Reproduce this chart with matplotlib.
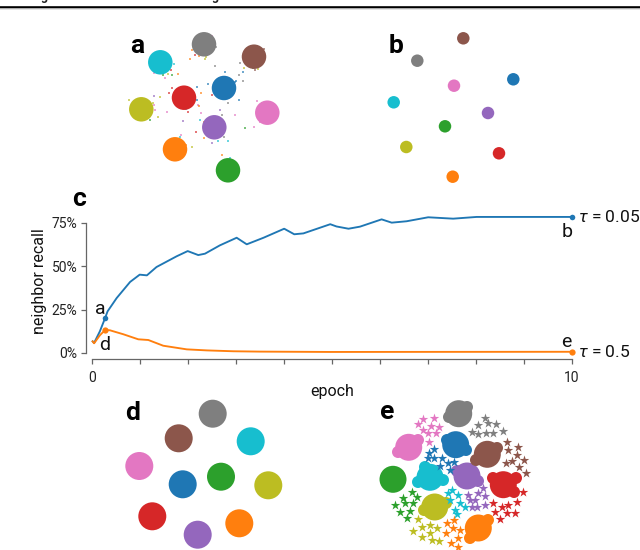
import matplotlib
matplotlib.use('Agg')
import matplotlib.pyplot as plt

plt.rcParams['font.family'] = ['Roboto', 'DejaVu Sans']
plt.rcParams['mathtext.fontset'] = 'custom'
plt.rcParams['mathtext.it'] = 'Roboto:italic'
plt.rcParams['mathtext.rm'] = 'Roboto'

W, H = 640, 550
COLORS = ['#1f77b4', '#ff7f0e', '#2ca02c', '#d62728', '#9467bd',
          '#8c564b', '#e377c2', '#7f7f7f', '#bcbd22', '#17becf']
# order: blue orange green red purple brown pink gray olive cyan
a_x = [224, 175, 228, 184, 214.3, 254, 267.3, 204, 141.3, 160.3]
a_y = [88, 149.3, 170.3, 97.7, 127.3, 56.7, 112.7, 44.3, 109.3, 62.3]
b_x = [513.3, 452.7, 445, 499, 488, 463.3, 454, 417.3, 406.3, 393.7]
b_y = [79.3, 176.7, 126.3, 153.3, 113, 38.3, 85.7, 60.7, 147, 102.3]
d_x = [182.7, 239.3, 221, 152.3, 197.7, 178.7, 139.3, 212.7, 268.3, 250.7]
d_y = [484.3, 523.3, 476.7, 516.3, 534.7, 438.3, 466, 413.7, 485.3, 441.3]
e_x = [455.7, 478.3, 393, 503.3, 467, 487.3, 408.7, 458.7, 434.7, 430]
e_y = [444.7, 528, 479.3, 484.7, 476, 454.3, 447.3, 413.7, 507, 477.3]
# bumps on the blob edges of panel e: x, y, colour index
lobe_x = [467, 449, 398, 418, 493, 514, 516, 478, 457, 418, 443, 425, 476, 497, 447, 466, 488, 470, 424, 446]
lobe_y = [407, 417, 452, 440, 478, 492, 478, 481, 471, 482, 480, 467, 460, 448, 440, 450, 520, 538, 510, 503]
lobe_c = [7, 7, 6, 6, 3, 3, 3, 4, 4, 9, 9, 9, 5, 5, 0, 0, 1, 1, 8, 8]

# small fragments of panel e, per colour (same order)
frag_e = [
    [(434, 449), (429, 453), (442, 458), (434, 458), (448, 463), (428, 458), (440, 466), (450, 470), (454, 462)],
    [(454, 520), (447, 523), (453, 528), (460, 530), (446, 533), (458, 538), (451, 543), (458, 547)],
    [(412, 492), (403, 498), (417, 497), (395, 505), (405, 503), (413, 503), (400, 512), (410, 511), (407, 518)],
    [(523, 492), (493, 503), (502, 507), (508, 505), (517, 502), (495, 512), (507, 513), (515, 513), (500, 519)],
    [(483, 488), (468, 495), (475, 500), (485, 496), (478, 493), (472, 507), (477, 507), (485, 505), (470, 500)],
    [(507, 442), (508, 450), (518, 447), (517, 455), (524, 460), (506, 463), (512, 461), (519, 467), (526, 473)],
    [(423, 419), (434, 418), (418, 424), (431, 426), (439, 427), (423, 430), (436, 433), (428, 433), (429, 442)],
    [(485, 418), (488, 423), (496, 424), (478, 425), (503, 431), (472, 432), (478, 434), (486, 433), (493, 433)],
    [(418, 519), (430, 525), (422, 527), (413, 531), (437, 528), (430, 533), (422, 537), (432, 540), (439, 541)],
    [(452, 490), (458, 495), (450, 500), (460, 503), (455, 510), (465, 507), (457, 514), (448, 493)],
]
# stray points around the clusters of panel a: x, y, colour index
stray_x = [190, 205, 195, 172, 165, 178, 215, 235, 243, 208, 212, 201, 197, 198, 228, 200, 235, 196, 183, 255, 258,
           240, 243, 253, 262, 160, 154, 158, 230, 222, 181, 186, 180, 192, 218, 224, 220, 155, 260, 225, 245,
           171, 168, 163, 154, 174, 192, 212, 216, 199, 206, 246, 244, 264, 153, 155, 150, 129, 154,
           172, 197, 199, 169, 201, 204, 225, 239, 239, 212, 228, 204, 222, 254, 257, 236, 188, 186, 167]
stray_y = [59, 59, 55, 75, 78, 74, 66, 82, 81, 84, 95, 93, 100, 105, 103, 120, 115, 132, 121, 70, 69,
           63, 72, 68, 103, 97, 105, 117, 158, 155, 135, 145, 137, 147, 141, 137, 110, 68, 122, 163, 128,
           70, 74, 75, 73, 64, 50, 36, 47, 56, 57, 62, 68, 49, 103, 110, 120, 100, 96,
           88, 87, 106, 93, 113, 122, 72, 75, 100, 143, 141, 138, 115, 127, 101, 81, 112, 109, 112]
stray_c = [1, 8, 3, 2, 6, 1, 7, 0, 7, 0, 3, 1, 0, 6, 7, 9, 6, 3, 4, 5, 8,
           7, 0, 2, 4, 8, 6, 8, 9, 1, 6, 1, 9, 8, 9, 7, 4, 3, 6, 2, 2,
           3, 8, 2, 6, 9, 1, 6, 7, 1, 8, 2, 8, 5, 8, 6, 2, 8, 4,
           3, 0, 1, 3, 6, 1, 0, 7, 0, 4, 9, 1, 7, 6, 6, 0, 3, 9, 6]

epoch_blue = [0.02, 0.05, 0.17, 0.28, 0.33, 0.52, 0.8, 1.0, 1.15, 1.35, 1.77, 2.0, 2.22, 2.36, 2.67, 3.02, 3.23,
              3.58, 4.01, 4.22, 4.41, 4.97, 5.1, 5.35, 5.59, 6.04, 6.25, 6.56, 7.01, 7.53, 8.02, 8.58, 10]
recall_blue = [6.7, 5.8, 12.5, 20.2, 24, 31.7, 41, 45.2, 44.8, 49.6, 55.8, 58.8, 56.5, 57.3, 62.1, 66.5, 62.7,
               66.5, 71.7, 68.5, 69, 74.3, 73, 71.7, 72.9, 77.1, 75.2, 76, 78.3, 77.5, 78.5, 78.5, 78.5]
epoch_orange = [0.02, 0.05, 0.17, 0.28, 0.38, 0.66, 0.97, 1.18, 1.49, 1.98, 2.4, 2.95, 3.5, 4.97, 10]
recall_orange = [6.7, 5.6, 10.2, 13.3, 13.1, 10.8, 7.9, 7.5, 4.2, 2.1, 1.5, 1.0, 0.8, 0.6, 0.7]
y_ticks = [0, 25, 50, 75]
y_labels = ['0%', '25%', '50%', '75%']
x_ticks = list(range(11))
x_labels = ['0'] + [''] * 9 + ['10']


def dia(px):
    return (px * 0.72) ** 2


fig = plt.figure(figsize=(W / 100, H / 100), dpi=100, facecolor='white')

px = fig.add_axes([0, 0, 1, 1])
px.set_xlim(0, W)
px.set_ylim(H, 0)
px.axis('off')

px.scatter(a_x, a_y, s=dia(24.5), c=COLORS, linewidths=0, zorder=3)
px.scatter(stray_x, stray_y, s=dia(2), c=[COLORS[i] for i in stray_c], linewidths=0, alpha=0.8, zorder=2)
px.scatter(b_x, b_y, s=dia(12.5), c=COLORS, linewidths=0, zorder=3)
px.scatter(d_x, d_y, s=dia(28), c=COLORS, linewidths=0, zorder=3)
px.scatter(e_x, e_y, s=dia(27), c=COLORS, linewidths=0, zorder=3)
px.scatter(lobe_x, lobe_y, s=dia(12), c=[COLORS[i] for i in lobe_c], linewidths=0, zorder=3)
for col, pts in zip(COLORS, frag_e):
    px.scatter([p[0] for p in pts], [p[1] for p in pts], s=dia(10), c=col, marker='*', linewidths=0, zorder=3)

# header rule with the cut-off caption line above it
px.plot([0, W], [7.3, 7.3], color='black', lw=1.6, solid_capstyle='butt', snap=False)
px.plot([0, W], [8.9, 8.9], color='#bbbbbb', lw=0.7, solid_capstyle='butt', snap=False)
for x in (44, 215):
    px.text(x, 0, 'g', fontsize=9, fontweight='bold', ha='center', va='baseline', color='#222222')

for letter, x, y in [('a', 136.7, 52.7), ('b', 396, 52.7), ('c', 79, 206), ('d', 133, 420), ('e', 386.7, 419.3)]:
    px.text(x, y, letter, fontsize=19, fontweight='bold', ha='center', va='baseline', color='black')

# line chart; 0 at x=91.7, 10 at x=571.7, 0% at y=353, 75% at y=223
L, R, T, B = 91.7, 571.7, 210.0, 353.0
ax = fig.add_axes([L / W, 1 - B / H, (R - L) / W, (B - T) / H])
ax.patch.set_alpha(0)
ax.set_xlim(0, 10)
ax.set_ylim(0, (B - T) / (B - 223) * 75)
ax.plot(epoch_blue, recall_blue, color=COLORS[0], lw=1.35, clip_on=False)
ax.plot(epoch_orange, recall_orange, color=COLORS[1], lw=1.35, clip_on=False)
ax.plot([epoch_blue[3], epoch_blue[-1]], [recall_blue[3], recall_blue[-1]], 'o', ms=4, color=COLORS[0], mew=0, clip_on=False)
ax.plot([epoch_orange[3], epoch_orange[-1]], [recall_orange[3], recall_orange[-1]], 'o', ms=4.5, color=COLORS[1], mew=0, clip_on=False)

for s in ('top', 'right'):
    ax.spines[s].set_visible(False)
ax.spines['left'].set_position(('outward', 4.3))
ax.spines['bottom'].set_position(('outward', 4.3))
ax.spines['left'].set_bounds(0, 75)
ax.spines['bottom'].set_bounds(0, 10)
for s in ('left', 'bottom'):
    ax.spines[s].set_color('#666666')
    ax.spines[s].set_linewidth(0.9)
ax.set_xticks(x_ticks, x_labels)
ax.set_yticks(y_ticks, y_labels)
ax.tick_params(axis='both', length=3.6, width=0.9, color='#666666', labelsize=10, labelcolor='#222222')
ax.tick_params(axis='x', pad=5)
ax.tick_params(axis='y', pad=2.5)
ax.set_xlabel('epoch', fontsize=11.5, labelpad=-1, color='#111111')
ax.set_ylabel('neighbor recall', fontsize=11.5, labelpad=3, color='#111111')

px2 = fig.add_axes([0, 0, 1, 1])
px2.set_xlim(0, W)
px2.set_ylim(H, 0)
px2.axis('off')
for t, x, y in [('a', 100, 314), ('d', 105, 350), ('b', 566.7, 236.7), ('e', 566.7, 346.7)]:
    px2.text(x, y, t, fontsize=14, ha='center', va='baseline', color='#111111')
px2.text(578, 221.7, r'$\tau$ = 0.05', fontsize=12.5, ha='left', va='baseline', color='#111111')
px2.text(578, 357.3, r'$\tau$ = 0.5', fontsize=12.5, ha='left', va='baseline', color='#111111')

fig.savefig('out.png', dpi=100)
